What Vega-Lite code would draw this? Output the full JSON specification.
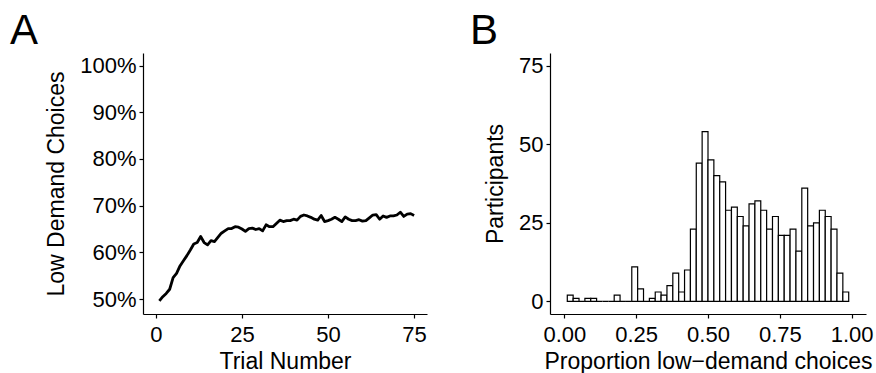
{
  "$schema": "https://vega.github.io/schema/vega-lite/v6.json",
  "padding": {"left": 10, "top": 10, "right": 0, "bottom": 0},
  "background": "white",
  "config": {
    "font": "Liberation Sans",
    "view": {"stroke": null},
    "axis": {
      "domainColor": "black", "domainWidth": 1.2, "tickColor": "black", "tickWidth": 1.2, "tickSize": 4,
      "labelColor": "black", "labelFontSize": 22, "labelFont": "Liberation Sans", "labelPadding": 3,
      "titleFont": "Liberation Sans", "titleFontSize": 23, "titleFontWeight": "normal", "titleColor": "black",
      "grid": false
    },
    "axisX": {"titlePadding": 5, "labelPadding": 6},
    "axisY": {"titlePadding": 11},
    "title": {"fontSize": 42, "fontWeight": "normal", "anchor": "start", "frame": "group", "color": "black", "font": "Liberation Sans"},
    "concat": {"spacing": 43}
  },
  "datasets": {
    "trials": [
      {"trial": 1, "p": 0.496}, {"trial": 2, "p": 0.505}, {"trial": 3, "p": 0.512}, {"trial": 4, "p": 0.521},
      {"trial": 5, "p": 0.546}, {"trial": 6, "p": 0.555}, {"trial": 7, "p": 0.571}, {"trial": 8, "p": 0.582},
      {"trial": 9, "p": 0.593}, {"trial": 10, "p": 0.605}, {"trial": 11, "p": 0.618}, {"trial": 12, "p": 0.621},
      {"trial": 13, "p": 0.634}, {"trial": 14, "p": 0.621}, {"trial": 15, "p": 0.616}, {"trial": 16, "p": 0.625},
      {"trial": 17, "p": 0.623}, {"trial": 18, "p": 0.632}, {"trial": 19, "p": 0.641}, {"trial": 20, "p": 0.646},
      {"trial": 21, "p": 0.651}, {"trial": 22, "p": 0.651}, {"trial": 23, "p": 0.655}, {"trial": 24, "p": 0.654},
      {"trial": 25, "p": 0.650}, {"trial": 26, "p": 0.645}, {"trial": 27, "p": 0.651}, {"trial": 28, "p": 0.652},
      {"trial": 29, "p": 0.649}, {"trial": 30, "p": 0.651}, {"trial": 31, "p": 0.646}, {"trial": 32, "p": 0.659},
      {"trial": 33, "p": 0.655}, {"trial": 34, "p": 0.655}, {"trial": 35, "p": 0.662}, {"trial": 36, "p": 0.669},
      {"trial": 37, "p": 0.666}, {"trial": 38, "p": 0.668}, {"trial": 39, "p": 0.668}, {"trial": 40, "p": 0.671},
      {"trial": 41, "p": 0.669}, {"trial": 42, "p": 0.677}, {"trial": 43, "p": 0.680}, {"trial": 44, "p": 0.678},
      {"trial": 45, "p": 0.675}, {"trial": 46, "p": 0.671}, {"trial": 47, "p": 0.669}, {"trial": 48, "p": 0.679},
      {"trial": 49, "p": 0.666}, {"trial": 50, "p": 0.668}, {"trial": 51, "p": 0.671}, {"trial": 52, "p": 0.675},
      {"trial": 53, "p": 0.671}, {"trial": 54, "p": 0.666}, {"trial": 55, "p": 0.676}, {"trial": 56, "p": 0.671},
      {"trial": 57, "p": 0.668}, {"trial": 58, "p": 0.668}, {"trial": 59, "p": 0.670}, {"trial": 60, "p": 0.667},
      {"trial": 61, "p": 0.668}, {"trial": 62, "p": 0.674}, {"trial": 63, "p": 0.680}, {"trial": 64, "p": 0.681},
      {"trial": 65, "p": 0.671}, {"trial": 66, "p": 0.678}, {"trial": 67, "p": 0.675}, {"trial": 68, "p": 0.678},
      {"trial": 69, "p": 0.678}, {"trial": 70, "p": 0.680}, {"trial": 71, "p": 0.686}, {"trial": 72, "p": 0.677},
      {"trial": 73, "p": 0.682}, {"trial": 74, "p": 0.683}, {"trial": 75, "p": 0.679}
    ],
    "hist": [
      {"lo": 0.010204, "hi": 0.030612, "n": 2}, {"lo": 0.030612, "hi": 0.05102, "n": 1},
      {"lo": 0.05102, "hi": 0.071429, "n": 0}, {"lo": 0.071429, "hi": 0.091837, "n": 1},
      {"lo": 0.091837, "hi": 0.112245, "n": 1}, {"lo": 0.112245, "hi": 0.132653, "n": 0},
      {"lo": 0.132653, "hi": 0.153061, "n": 0}, {"lo": 0.153061, "hi": 0.173469, "n": 0},
      {"lo": 0.173469, "hi": 0.193878, "n": 2}, {"lo": 0.193878, "hi": 0.214286, "n": 0},
      {"lo": 0.214286, "hi": 0.234694, "n": 0}, {"lo": 0.234694, "hi": 0.255102, "n": 11},
      {"lo": 0.255102, "hi": 0.27551, "n": 4}, {"lo": 0.27551, "hi": 0.295918, "n": 0},
      {"lo": 0.295918, "hi": 0.316327, "n": 1}, {"lo": 0.316327, "hi": 0.336735, "n": 3},
      {"lo": 0.336735, "hi": 0.357143, "n": 2}, {"lo": 0.357143, "hi": 0.377551, "n": 5},
      {"lo": 0.377551, "hi": 0.397959, "n": 9}, {"lo": 0.397959, "hi": 0.418367, "n": 3},
      {"lo": 0.418367, "hi": 0.438776, "n": 10}, {"lo": 0.438776, "hi": 0.459184, "n": 23},
      {"lo": 0.459184, "hi": 0.479592, "n": 44}, {"lo": 0.479592, "hi": 0.5, "n": 54},
      {"lo": 0.5, "hi": 0.520408, "n": 45}, {"lo": 0.520408, "hi": 0.540816, "n": 40},
      {"lo": 0.540816, "hi": 0.561224, "n": 38}, {"lo": 0.561224, "hi": 0.581633, "n": 29},
      {"lo": 0.581633, "hi": 0.602041, "n": 30}, {"lo": 0.602041, "hi": 0.622449, "n": 27},
      {"lo": 0.622449, "hi": 0.642857, "n": 24}, {"lo": 0.642857, "hi": 0.663265, "n": 31},
      {"lo": 0.663265, "hi": 0.683673, "n": 32}, {"lo": 0.683673, "hi": 0.704082, "n": 29},
      {"lo": 0.704082, "hi": 0.72449, "n": 23}, {"lo": 0.72449, "hi": 0.744898, "n": 27},
      {"lo": 0.744898, "hi": 0.765306, "n": 21}, {"lo": 0.765306, "hi": 0.785714, "n": 21},
      {"lo": 0.785714, "hi": 0.806122, "n": 23}, {"lo": 0.806122, "hi": 0.826531, "n": 16},
      {"lo": 0.826531, "hi": 0.846939, "n": 36}, {"lo": 0.846939, "hi": 0.867347, "n": 24},
      {"lo": 0.867347, "hi": 0.887755, "n": 25}, {"lo": 0.887755, "hi": 0.908163, "n": 29},
      {"lo": 0.908163, "hi": 0.928571, "n": 27}, {"lo": 0.928571, "hi": 0.94898, "n": 23},
      {"lo": 0.94898, "hi": 0.969388, "n": 9}, {"lo": 0.969388, "hi": 0.989796, "n": 3}
    ]
  },
  "hconcat": [
    {
      "title": {"text": "A", "dx": -133, "offset": 0},
      "width": 284,
      "height": 261,
      "data": {"name": "trials"},
      "mark": {"type": "line", "color": "black", "strokeWidth": 2.8, "strokeJoin": "round"},
      "encoding": {
        "x": {"field": "trial", "type": "quantitative", "title": "Trial Number",
              "scale": {"domain": [-3.75, 78.75], "nice": false, "zero": false},
              "axis": {"values": [0, 25, 50, 75]}},
        "y": {"field": "p", "type": "quantitative", "title": "Low Demand Choices",
              "scale": {"domain": [0.468, 1.027], "nice": false, "zero": false},
              "axis": {"values": [0.5, 0.6, 0.7, 0.8, 0.9, 1.0], "format": ".0%"}}
      }
    },
    {
      "title": {"text": "B", "dx": -80, "offset": 0},
      "width": 316,
      "height": 261,
      "data": {"name": "hist"},
      "mark": {"type": "rect", "fill": "white", "stroke": "black", "strokeWidth": 1.2},
      "encoding": {
        "x": {"field": "lo", "type": "quantitative", "title": "Proportion low−demand choices",
              "scale": {"domain": [-0.05, 1.05], "nice": false, "zero": false},
              "axis": {"values": [0, 0.25, 0.5, 0.75, 1], "format": ".2f"}},
        "x2": {"field": "hi"},
        "y": {"field": "n", "type": "quantitative", "title": "Participants",
              "scale": {"domain": [-4, 79], "nice": false, "zero": false},
              "axis": {"values": [0, 25, 50, 75]}},
        "y2": {"datum": 0}
      }
    }
  ]
}
